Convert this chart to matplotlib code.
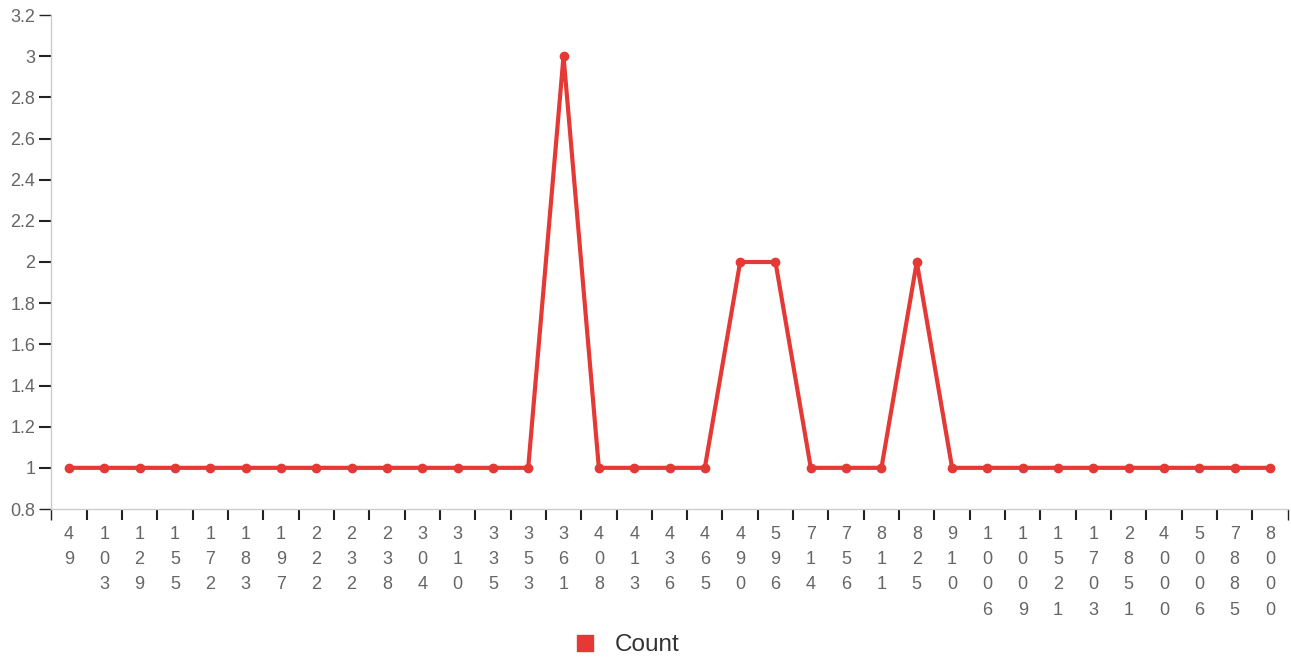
import matplotlib.pyplot as plt
from matplotlib.lines import Line2D

# ==========================================================
# Data
# ==========================================================

categories = [
    "49", "103", "129", "155", "172", "183", "197", "222", "232", "238",
    "304", "310", "335", "353", "361", "408", "413", "436", "465", "490",
    "596", "714", "756", "811", "825", "910", "1006", "1009", "1521", "1703",
    "2851", "4000", "5006", "7885", "8000",
]

counts = [
    1, 1, 1, 1, 1, 1, 1, 1, 1, 1,
    1, 1, 1, 1, 3, 1, 1, 1, 1, 2,
    2, 1, 1, 1, 2, 1, 1, 1, 1, 1,
    1, 1, 1, 1, 1,
]

y_ticks = [0.8, 1.0, 1.2, 1.4, 1.6, 1.8, 2.0, 2.2, 2.4, 2.6, 2.8, 3.0, 3.2]

# ==========================================================
# Style
# ==========================================================

RED = "#e53935"
GRID_GRAY = "#cccccc"
TEXT_GRAY = "#666666"

plt.rcParams["font.family"] = ["Liberation Sans", "DejaVu Sans"]

W, H = 1291, 661
fig = plt.figure(figsize=(W / 100, H / 100), dpi=100)

left, right, top, bottom = 51.3, 1287.7, 15, 509
ax = fig.add_axes([left / W, 1 - bottom / H, (right - left) / W, (bottom - top) / H])

x = list(range(len(categories)))

ax.plot(
    x,
    counts,
    color=RED,
    linewidth=3,
    marker="o",
    markersize=6,
    solid_joinstyle="miter",
)

ax.set_xlim(-0.5, len(categories) - 0.5)
ax.set_ylim(0.8, 3.2)

# ==========================================================
# Axes
# ==========================================================

for side in ["top", "right"]:
    ax.spines[side].set_visible(False)
for side in ["left", "bottom"]:
    ax.spines[side].set_color(GRID_GRAY)
    ax.spines[side].set_linewidth(1)

ax.set_yticks(y_ticks)
ax.set_yticklabels([f"{v:g}" for v in y_ticks])
ax.tick_params(
    axis="y", length=8.5, width=1.5, color="#222222",
    labelsize=13, labelcolor=TEXT_GRAY, pad=3,
)
for i in (0, len(y_ticks) - 1):
    tk = ax.yaxis.get_major_ticks()[i]
    tk.tick1line.set_color(GRID_GRAY)
    tk.tick1line.set_markeredgewidth(1)

# category labels, stacked vertically
ax.set_xticks(x)
ax.set_xticklabels(["\n".join(c) for c in categories], linespacing=1.62)
ax.tick_params(axis="x", which="major", length=0, labelsize=13,
               labelcolor=TEXT_GRAY, pad=12.5)

boundaries = [i - 0.5 for i in range(len(categories) + 1)]
ax.set_xticks(boundaries, minor=True)
ax.tick_params(axis="x", which="minor", length=8, width=1.5, color="#222222")
minor = ax.xaxis.get_minor_ticks()
for tk in (minor[0], minor[-1]):
    tk.tick1line.set_color(GRID_GRAY)
    tk.tick1line.set_markeredgewidth(1)

# ==========================================================
# Legend
# ==========================================================

handle = Line2D([], [], linestyle="none", marker="s", markersize=11.5,
                markerfacecolor=RED, markeredgecolor=RED)
fig.legend(
    [handle], ["Count"],
    loc="center", bbox_to_anchor=(620 / W, 1 - 645 / H),
    frameon=False, fontsize=17.5, handletextpad=0.2,
    labelcolor="#333333",
)

fig.savefig("out.png", dpi=100)
